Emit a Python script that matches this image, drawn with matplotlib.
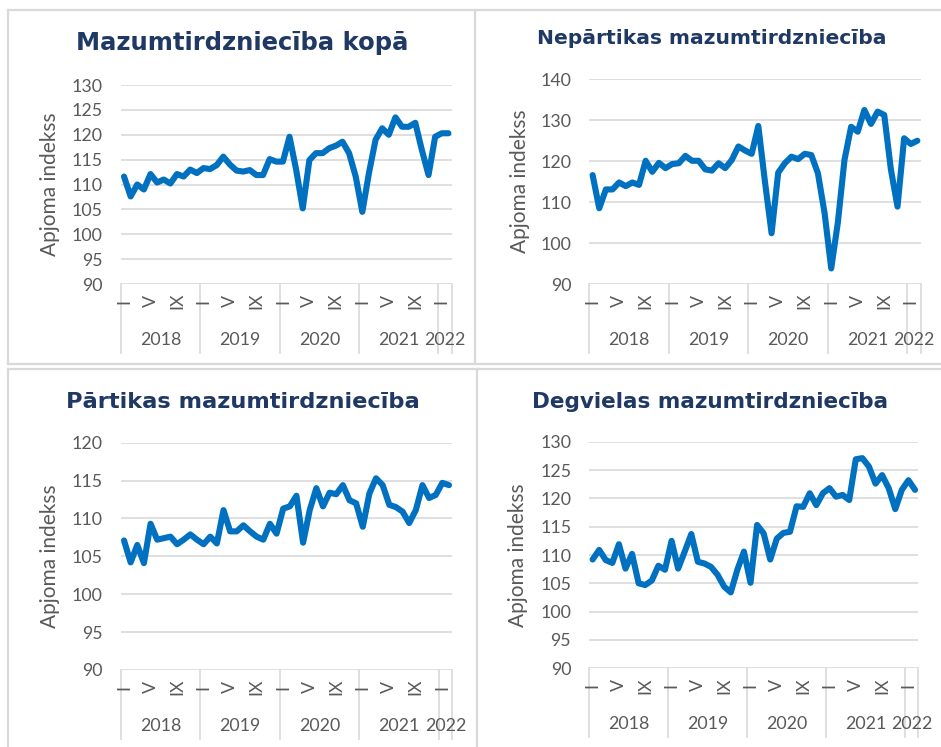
import matplotlib
matplotlib.use("Agg")
import matplotlib.pyplot as plt
import matplotlib.transforms as mtransforms
from matplotlib.lines import Line2D

W, H = 941, 747

# ---------------- data ----------------
years = ["2018", "2019", "2020", "2021", "2022"]
year_lengths = [12, 12, 12, 12, 2]
month_labels = ["I", "V", "IX"]          # Jan, May, Sep
month_label_offsets = [0, 4, 8]

titles = ["Mazumtirdzniecība kopā", "Nepārtikas mazumtirdzniecība",
          "Pārtikas mazumtirdzniecība", "Degvielas mazumtirdzniecība"]
ylabel = "Apjoma indekss"

total = [111.6, 107.6, 110.0, 109.0, 112.1, 110.4, 111.0, 110.2, 112.1, 111.6, 113.0, 112.3,
         113.3, 113.1, 113.9, 115.6, 114.0, 112.8, 112.6, 112.9, 111.9, 111.9, 115.1, 114.6,
         114.6, 119.6, 113.0, 105.2, 114.9, 116.3, 116.3, 117.3, 117.8, 118.6, 116.3, 111.6,
         104.5, 112.3, 119.0, 121.3, 120.0, 123.5, 121.6, 121.6, 122.4, 116.9, 111.9, 119.6,
         120.3, 120.3]

nonfood = [116.6, 108.5, 113.1, 113.1, 114.8, 113.9, 114.8, 114.2, 120.1, 117.4, 119.6, 118.3,
           119.3, 119.5, 121.3, 120.1, 120.1, 118.0, 117.7, 119.5, 118.3, 120.3, 123.6, 122.6,
           121.8, 128.6, 115.0, 102.4, 117.2, 119.5, 121.1, 120.5, 121.8, 121.5, 117.0, 107.3,
           93.8, 105.0, 120.3, 128.4, 127.2, 132.5, 129.1, 132.1, 131.3, 118.0, 108.9, 125.6,
           124.2, 125.0]

food = [107.1, 104.2, 106.5, 104.1, 109.3, 107.2, 107.4, 107.6, 106.6, 107.2, 107.9, 107.2,
        106.6, 107.6, 106.7, 111.1, 108.3, 108.3, 109.1, 108.3, 107.6, 107.2, 109.3, 108.0,
        111.3, 111.6, 113.0, 106.8, 111.1, 114.0, 111.6, 113.4, 113.2, 114.4, 112.4, 112.0,
        108.9, 113.3, 115.3, 114.4, 111.8, 111.5, 110.9, 109.4, 111.1, 114.4, 112.7, 113.1,
        114.7, 114.4]

fuel = [109.2, 110.9, 109.1, 108.6, 111.9, 107.6, 110.2, 105.0, 104.7, 105.5, 108.1, 107.4,
        112.5, 107.6, 110.6, 113.7, 108.8, 108.5, 107.9, 106.5, 104.4, 103.4, 107.4, 110.6,
        105.1, 115.3, 113.8, 109.2, 112.9, 113.9, 114.1, 118.6, 118.5, 120.9, 118.8, 120.9,
        121.8, 120.3, 120.6, 119.7, 126.9, 127.1, 125.6, 122.6, 124.1, 121.8, 118.1, 121.5,
        123.2, 121.5]

series = [total, nonfood, food, fuel]
y_ranges = [(90, 130, 5), (90, 140, 10), (90, 120, 5), (90, 130, 5)]

# ---------------- layout (pixels) ----------------
axes_px = [(120.7, 85.0, 451.7, 284.0),
           (589.3, 79.3, 920.7, 284.0),
           (120.7, 442.7, 452.3, 670.0),
           (589.3, 441.7, 918.3, 668.3)]
title_px = [(242, 43, 17.5), (712, 39, 14.6), (243, 402, 16.2), (710, 402, 15.5)]
ylabel_px = [60, 530, 60, 528]   # right edge of rotated label

LINE_C = "#0070C0"
GRID_C = "#D9D9D9"
TEXT_C = "#595959"
TITLE_C = "#1F3864"
LBL_FONT = "Lato"
TICK_FS = 12.8
YLAB_FS = 15

fig = plt.figure(figsize=(W / 100, H / 100), dpi=100)
fig.patch.set_facecolor("white")

# panel borders
def fig_line(x0, y0, x1, y1):
    fig.add_artist(Line2D([x0 / W, x1 / W], [1 - y0 / H, 1 - y1 / H],
                          transform=fig.transFigure, color=GRID_C, lw=1.6))

fig_line(8, 10, W, 10)
fig_line(8, 363.5, W, 363.5)
fig_line(8, 369.5, W, 369.5)
fig_line(8, 10, 8, 363.5)
fig_line(8, 369.5, 8, H)
fig_line(475.5, 10, 475.5, 363.5)
fig_line(476.5, 369.5, 476.5, H)

n = sum(year_lengths)
x = [i + 0.5 for i in range(n)]

for k in range(4):
    l, t, r, b = axes_px[k]
    ax = fig.add_axes([l / W, 1 - b / H, (r - l) / W, (b - t) / H])
    y0, y1, step = y_ranges[k]
    ax.set_ylim(y0, y1)
    ax.set_xlim(0, n)
    ticks = list(range(y0, y1 + 1, step))
    ax.set_yticks(ticks)
    ax.set_yticklabels([str(v) for v in ticks], fontfamily=LBL_FONT, fontsize=TICK_FS, color=TEXT_C)
    ax.tick_params(axis="y", length=0, pad=13)
    ax.set_xticks([])
    for s in ax.spines.values():
        s.set_visible(False)
    for v in ticks:
        ax.axhline(v, color=GRID_C, lw=1.2, zorder=1)

    ax.plot(x, series[k], color=LINE_C, lw=4.4, solid_joinstyle="round",
            solid_capstyle="round", zorder=3, clip_on=False)

    # y label
    ax.set_ylabel(ylabel, fontfamily=LBL_FONT, fontsize=YLAB_FS, color=TEXT_C)
    ax.yaxis.set_label_coords((ylabel_px[k] - l) / (r - l), 0.5)

    # category axis (multi-level)
    blend = mtransforms.blended_transform_factory(ax.transData, ax.transAxes)
    depth = 69 / (b - t)
    start = 0
    bounds = [0]
    for yl in year_lengths:
        start += yl
        bounds.append(start)
    for bx in bounds:
        ax.plot([bx, bx], [0, -depth], transform=blend, color=GRID_C, lw=1.2,
                clip_on=False, zorder=1)
    tr_m = mtransforms.offset_copy(blend, fig=fig, y=-17, units="dots")
    tr_y = mtransforms.offset_copy(blend, fig=fig, y=-56, units="dots")
    for yi, (yr, yl) in enumerate(zip(years, year_lengths)):
        s0 = bounds[yi]
        for lab, off in zip(month_labels, month_label_offsets):
            if off < yl:
                ax.text(s0 + off + 0.5, 0, lab, transform=tr_m, rotation=90,
                        ha="center", va="center", fontfamily=LBL_FONT,
                        fontsize=TICK_FS, color=TEXT_C)
        ax.text(s0 + yl / 2, 0, yr, transform=tr_y, ha="center", va="center",
                fontfamily=LBL_FONT, fontsize=TICK_FS, color=TEXT_C)

    tx, ty, ts = title_px[k]
    fig.text(tx / W, 1 - ty / H, titles[k], ha="center", va="center",
             fontfamily="DejaVu Sans", fontweight="bold", fontsize=ts, color=TITLE_C)

fig.savefig("out.png", dpi=100, facecolor="white")
